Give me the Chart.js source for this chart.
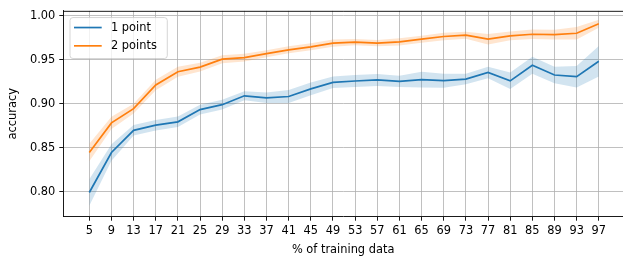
<!DOCTYPE html>
<html>
<head>
<meta charset="utf-8">
<script src="https://cdn.jsdelivr.net/npm/chart.js@4/dist/chart.umd.min.js"></script>
<style>
  html, body { margin: 0; padding: 0; background: #fff; overflow: hidden; }
</style>
</head>
<body>
<canvas id="myChart" width="623" height="259"></canvas>
<script>
// % of training data
var pct = [5, 9, 13, 17, 21, 25, 29, 33, 37, 41, 45, 49, 53, 57, 61, 65, 69, 73, 77, 81, 85, 89, 93, 97];

// mean accuracy
var onePoint = [0.799, 0.8445, 0.8697, 0.8756, 0.8794, 0.8933, 0.8989, 0.909, 0.9067, 0.9082, 0.9169, 0.9243,
                0.9258, 0.927, 0.9254, 0.9273, 0.9262, 0.928, 0.9355, 0.926, 0.9438, 0.9326, 0.9307, 0.9483];
var twoPoints = [0.8445, 0.8782, 0.8944, 0.9213, 0.9363, 0.9416, 0.9506, 0.9524, 0.9569, 0.9613, 0.9647, 0.9689,
                 0.970, 0.9689, 0.9703, 0.9734, 0.9764, 0.9779, 0.9734, 0.9771, 0.979, 0.9786, 0.9801, 0.991];

// half width of the shaded band
var onePointErr = [0.015, 0.0094, 0.006, 0.006, 0.006, 0.0055, 0.0055, 0.0052, 0.006, 0.0075, 0.0072, 0.0065,
                   0.0068, 0.0069, 0.0065, 0.009, 0.008, 0.006, 0.0066, 0.0094, 0.0097, 0.0094, 0.0122, 0.0174];
var twoPointsErr = [0.01, 0.007, 0.0056, 0.006, 0.0056, 0.005, 0.0045, 0.0045, 0.004, 0.004, 0.004, 0.004,
                    0.0035, 0.0035, 0.004, 0.004, 0.0042, 0.004, 0.006, 0.005, 0.0055, 0.0055, 0.007, 0.0045];

var yTicks = [0.80, 0.85, 0.90, 0.95, 1.00];

var seriesLabels = ['1 point', '2 points'];
var colors = ['#1f77b4', '#ff7f0e'];
var bandColors = ['rgba(31,119,180,0.2)', 'rgba(255,127,14,0.2)'];

var FONT = 'DejaVu Sans';
var FSIZE = 11.4;

function pts(vals, off, sign) {
    return pct.map(function(x, i) {
        return { x: x, y: vals[i] + (off ? sign * off[i] : 0) };
    });
}

function lineSet(label, vals, color) {
    return {
        label: label, data: pts(vals), borderColor: color, backgroundColor: color,
        borderWidth: 1.7, pointRadius: 0, fill: false, tension: 0, showInLegend: true
    };
}

function bandSet(vals, err, sign, color, fill) {
    return {
        label: '', data: pts(vals, err, sign), borderWidth: 0, borderColor: 'rgba(0,0,0,0)',
        backgroundColor: color, pointRadius: 0, fill: fill, tension: 0
    };
}

// top spine + matplotlib style legend box
var framePlugin = {
    id: 'frame',
    afterDraw: function(chart) {
        var ctx = chart.ctx, a = chart.chartArea;
        ctx.save();
        ctx.strokeStyle = '#000';
        ctx.lineWidth = 0.9;
        ctx.beginPath();
        ctx.moveTo(a.left, a.top + 0.5);
        ctx.lineTo(a.right, a.top + 0.5);
        ctx.stroke();

        var items = chart.data.datasets.filter(function(d) { return d.showInLegend; });
        var bx = a.left + 6.7, by = a.top + 6.7, bw = 97.3, bh = 41;
        ctx.beginPath();
        ctx.roundRect(bx, by, bw, bh, 3);
        ctx.fillStyle = 'rgba(255,255,255,0.8)';
        ctx.fill();
        ctx.strokeStyle = '#cccccc';
        ctx.lineWidth = 0.8;
        ctx.stroke();

        ctx.font = FSIZE + 'px "' + FONT + '"';
        ctx.textBaseline = 'middle';
        ctx.textAlign = 'left';
        items.forEach(function(d, i) {
            var y = by + 10 + i * 18.3;
            ctx.strokeStyle = d.borderColor;
            ctx.lineWidth = 1.7;
            ctx.beginPath();
            ctx.moveTo(bx + 4, y);
            ctx.lineTo(bx + 31.7, y);
            ctx.stroke();
            ctx.fillStyle = '#000';
            ctx.fillText(d.label, bx + 41, y + 0.5);
        });
        ctx.restore();
    }
};

Chart.defaults.color = '#000';
Chart.defaults.font.family = FONT;
Chart.defaults.font.size = FSIZE;

var ctx = document.getElementById('myChart');
var myChart = new Chart(ctx, {
    type: 'line',
    data: {
        datasets: [
            lineSet(seriesLabels[0], onePoint, colors[0]),
            lineSet(seriesLabels[1], twoPoints, colors[1]),
            bandSet(onePoint, onePointErr, 1, bandColors[0], false),
            bandSet(onePoint, onePointErr, -1, bandColors[0], '-1'),
            bandSet(twoPoints, twoPointsErr, 1, bandColors[1], false),
            bandSet(twoPoints, twoPointsErr, -1, bandColors[1], '-1')
        ]
    },
    plugins: [framePlugin],
    options: {
        responsive: false,
        animation: false,
        devicePixelRatio: 1,
        layout: { padding: { top: 8.3, right: 0, left: 0, bottom: 0 } },
        plugins: {
            legend: { display: false },
            tooltip: { enabled: false }
        },
        scales: {
            x: {
                type: 'linear',
                min: 0.305,
                max: 101.37,
                afterBuildTicks: function(scale) {
                    scale.ticks = pct.map(function(v) { return { value: v }; });
                },
                afterFit: function(scale) { scale.height = 42.3; },
                ticks: { autoSkip: false, maxRotation: 0, padding: 4, callback: function(v) { return String(v); } },
                grid: { color: '#b0b0b0', lineWidth: 0.8, tickColor: '#000', tickLength: 4, tickWidth: 0.9 },
                border: { color: '#000', width: 0.9 },
                title: { display: true, text: '% of training data', padding: { top: 0, bottom: 2 } }
            },
            y: {
                type: 'linear',
                min: 0.7715,
                max: 1.0056,
                afterBuildTicks: function(scale) {
                    scale.ticks = yTicks.map(function(v) { return { value: v }; });
                },
                afterFit: function(scale) { scale.width = 63.3; },
                ticks: { padding: 4, callback: function(v) { return v.toFixed(2); } },
                grid: { color: '#b0b0b0', lineWidth: 0.8, tickColor: '#000', tickLength: 4, tickWidth: 0.9 },
                border: { color: '#000', width: 0.9 },
                title: { display: true, text: 'accuracy', padding: { top: 6.5, bottom: 0 } }
            }
        }
    }
});
</script>
</body>
</html>
